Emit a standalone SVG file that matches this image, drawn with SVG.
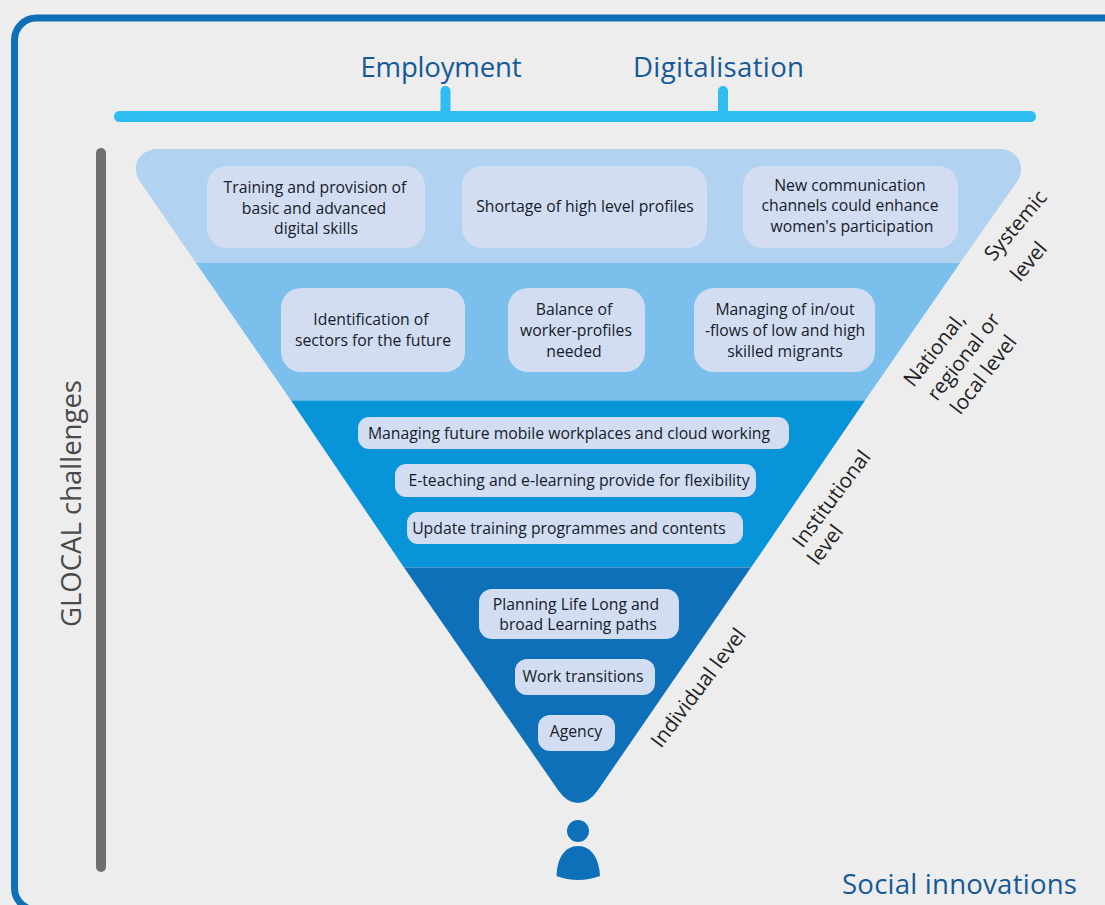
<svg xmlns="http://www.w3.org/2000/svg" width="1105" height="905" viewBox="0 0 1105 905">
<style>
text{font-family:"Open Sans","Noto Sans","Liberation Sans",sans-serif}
.b{fill:#d2ddf1}
.t{font-size:15.75px;fill:#16202b;text-anchor:middle}
.l{font-size:20.6px;fill:#222222;text-anchor:middle}
.h{font-size:27.6px;fill:#155a96;text-anchor:middle}
</style>
<rect width="1105" height="905" fill="#eeeeee"/>
<rect id="frame" x="14.500" y="18" width="1200" height="892" rx="22" fill="#ededed" stroke="#0f70b8" stroke-width="7"/>
<g id="connectors">
<rect x="114" y="111" width="922" height="11" rx="5.500" fill="#2dbdf0"/>
<rect x="440.500" y="86" width="10" height="30" rx="5" fill="#2dbdf0"/>
<rect x="718" y="86" width="10" height="30" rx="5" fill="#2dbdf0"/>
<rect x="96" y="148" width="10" height="724" rx="5" fill="#6f6f6f"/>
</g>
<text class="h" x="441" y="77" textLength="161">Employment</text>
<text class="h" x="718.500" y="77" textLength="171">Digitalisation</text>
<text class="h" x="959.500" y="894" textLength="235">Social innovations</text>
<text class="h" style="fill:#4a4a4a" transform="translate(81,503.500) rotate(-90)" textLength="247">GLOCAL challenges</text>
<g id="level-systemic">
<path d="M157 149H1000C1017 149 1028 167 1016 183L960 263H196L141 183C129 167 140 149 157 149Z" fill="#b1d3f1"/>
</g>
<g id="level-national"><path d="M196 263H960L865 400.500H291Z" fill="#7bc0ec"/></g>
<g id="level-institutional"><path d="M291 400.500H865L751 567.500H404Z" fill="#0894d8"/></g>
<g id="level-individual"><path d="M404 567.500H751L598 790Q589 803 578 803Q567 803 558 790Z" fill="#0e70b9"/></g>
<g id="n1"><rect class="b" x="207" y="166" width="218" height="82" rx="20"/><text class="t" x="315" y="193">Training and provision of</text><text class="t" x="314" y="213.500">basic and advanced</text><text class="t" x="316" y="234">digital skills</text></g>
<g id="n2"><rect class="b" x="462" y="166" width="245" height="82" rx="20"/><text class="t" x="585" y="211.500">Shortage of high level profiles</text></g>
<g id="n3"><rect class="b" x="743" y="166" width="215" height="82" rx="20"/><text class="t" x="850" y="190.500">New communication</text><text class="t" x="850" y="211">channels could enhance</text><text class="t" x="852" y="232">women's participation</text></g>
<g id="n4"><rect class="b" x="281" y="288" width="184" height="84" rx="20"/><text class="t" x="371" y="325">Identification of</text><text class="t" x="373" y="346">sectors for the future</text></g>
<g id="n5"><rect class="b" x="508" y="288" width="137" height="84" rx="20"/><text class="t" x="574" y="315">Balance of</text><text class="t" x="576" y="336">worker-profiles</text><text class="t" x="574" y="356.500">needed</text></g>
<g id="n6"><rect class="b" x="694" y="288" width="181" height="84" rx="20"/><text class="t" x="785" y="315">Managing of in/out</text><text class="t" x="785" y="336">-flows of low and high</text><text class="t" x="785" y="356.500">skilled migrants</text></g>
<g id="n7"><rect class="b" x="358" y="417" width="431" height="32" rx="11"/><text class="t" x="569" y="439">Managing future mobile workplaces and cloud working</text></g>
<g id="n8"><rect class="b" x="395" y="464" width="361" height="33" rx="11"/><text class="t" x="579" y="486">E-teaching and e-learning provide for flexibility</text></g>
<g id="n9"><rect class="b" x="407" y="512" width="336" height="32" rx="11"/><text class="t" x="569" y="533.500">Update training programmes and contents</text></g>
<g id="n10"><rect class="b" x="479" y="589" width="200" height="50" rx="13"/><text class="t" x="576" y="609.500">Planning Life Long and</text><text class="t" x="578" y="630">broad Learning paths</text></g>
<g id="n11"><rect class="b" x="515" y="659" width="140" height="36" rx="12"/><text class="t" x="583" y="682">Work transitions</text></g>
<g id="n12"><rect class="b" x="538" y="715" width="77" height="36" rx="12"/><text class="t" x="576" y="737">Agency</text></g>
<g id="person"><circle cx="578" cy="831" r="11" fill="#0e70b9"/><path d="M556.500 876C557 858 565 846 578 846C591 846 599 858 600 876Q578 884 556.500 876Z" fill="#0e70b9"/></g>
<g id="labels">
<text class="l" transform="translate(1021,230) rotate(-50)">Systemic</text>
<text class="l" transform="translate(1034,266) rotate(-50)">level</text>
<text class="l" transform="translate(940,354) rotate(-52)">National,</text>
<text class="l" transform="translate(969,361) rotate(-52)">regional or</text>
<text class="l" transform="translate(989,379) rotate(-52)">local level</text>
<text class="l" transform="translate(837,503) rotate(-53)">Institutional</text>
<text class="l" transform="translate(831,549) rotate(-53)">level</text>
<text class="l" transform="translate(704,692) rotate(-53)">Individual level</text>
</g>
</svg>
